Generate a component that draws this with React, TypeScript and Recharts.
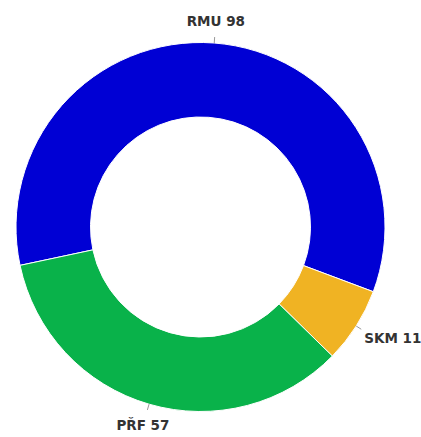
import { Cell, Pie, PieChart } from "recharts";

const names = ["RMU", "SKM", "PŘF"];
const values = [98, 11, 57];
const colors = ["#0000d4", "#f0b323", "#09b24a"];

const data = names.map((name, i) => ({ name, value: values[i] }));

const RADIAN = Math.PI / 180;

function SliceLabel(props: any) {
  const { cx, cy, midAngle, outerRadius, name, value } = props;
  const cos = Math.cos(-midAngle * RADIAN);
  const sin = Math.sin(-midAngle * RADIAN);
  const x1 = cx + outerRadius * cos;
  const y1 = cy + outerRadius * sin;
  const x2 = cx + (outerRadius + 6) * cos;
  const y2 = cy + (outerRadius + 6) * sin;
  const r = outerRadius + 22;
  let anchor: "start" | "middle" | "end" = "middle";
  let tx = cx + r * cos;
  const ty = cy + r * sin;
  if (cos > 0.4) {
    anchor = "start";
    tx = x2 + 3;
  } else if (cos < -0.4) {
    anchor = "end";
    tx = x2 - 3;
  }
  return (
    <g>
      <line x1={x1} y1={y1} x2={x2} y2={y2} stroke="#999" strokeWidth={1} />
      <text
        x={tx}
        y={ty}
        textAnchor={anchor}
        dominantBaseline="central"
        fill="#333333"
        fontSize={13.5}
        fontWeight="bold"
        fontFamily="'DejaVu Sans', sans-serif"
      >
        {`${name} ${value}`}
      </text>
    </g>
  );
}

export default function App() {
  return (
    <div style={{ position: "absolute", left: 0, top: 0, width: 421, height: 437, background: "#fff" }}>
      <PieChart width={421} height={437} margin={{ top: 0, right: 0, bottom: 0, left: 0 }}>
        <Pie
          data={data}
          dataKey="value"
          nameKey="name"
          cx={200.5}
          cy={227}
          innerRadius={110}
          outerRadius={184.5}
          startAngle={192}
          endAngle={-168}
          stroke="#ffffff"
          strokeWidth={1}
          label={SliceLabel}
          labelLine={false}
          isAnimationActive={false}
        >
          {data.map((d, i) => (
            <Cell key={d.name} fill={colors[i]} />
          ))}
        </Pie>
      </PieChart>
    </div>
  );
}
